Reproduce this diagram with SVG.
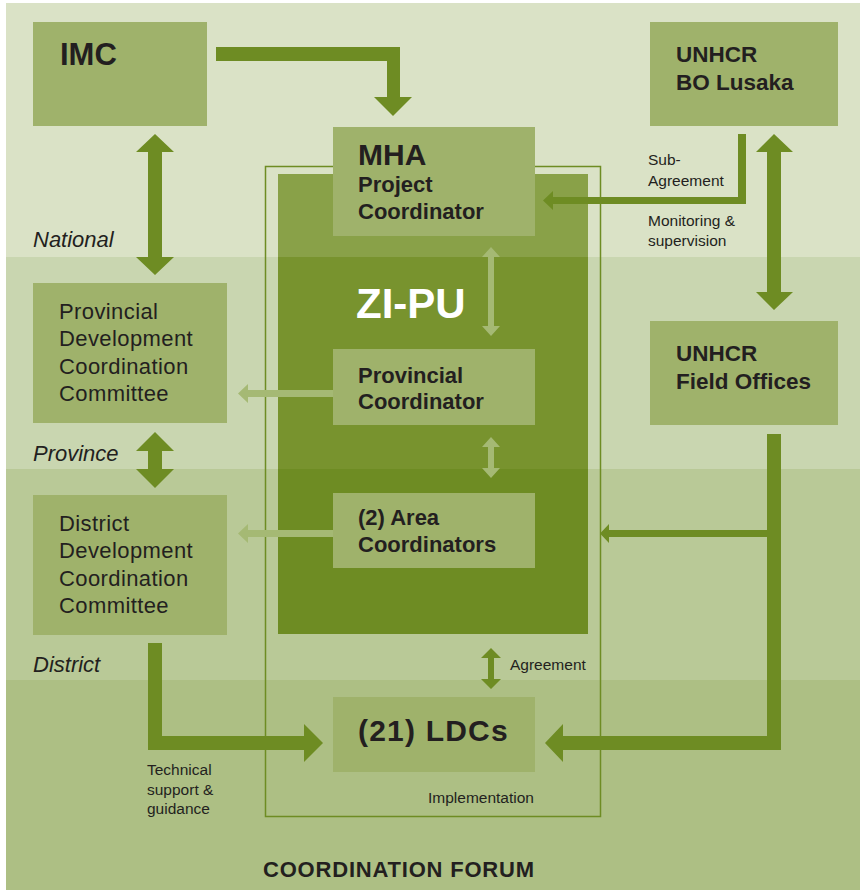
<svg xmlns="http://www.w3.org/2000/svg" width="860" height="890" viewBox="0 0 860 890">
<defs>
<style>
.box{fill:#9fb26b}
.dk{fill:#6e8c23}
.lt{fill:#a5b974}
.t{font-family:"Liberation Sans",Arial,Helvetica,sans-serif;fill:#231f20}
.b{font-weight:bold}
.r22{font-size:22px;letter-spacing:0.4px}
.b22{font-size:22px;font-weight:bold}
.sm{font-size:15.5px}
.lvl{font-size:22px;font-style:italic}
</style>
</defs>
<rect x="0" y="0" width="860" height="890" fill="#ffffff"/>
<g id="bands">
<rect x="6" y="3" width="854" height="254" fill="#dae2c6"/>
<rect x="6" y="257" width="854" height="212" fill="#c9d6b0"/>
<rect x="6" y="469" width="854" height="211" fill="#b9c997"/>
<rect x="6" y="680" width="854" height="210" fill="#adbf84"/>
</g>
<g id="forum">
<rect x="265.5" y="166.5" width="335" height="650" fill="none" stroke="#6e8c23" stroke-width="1.5"/>
<text class="t b" x="263" y="877" font-size="22" letter-spacing="0.8">COORDINATION FORUM</text>
</g>
<g id="zipu">
<rect x="278" y="174" width="310" height="83" fill="#89a148"/>
<rect x="278" y="257" width="310" height="212" fill="#78932e"/>
<rect x="278" y="469" width="310" height="165" fill="#6e8c23"/>
<text class="t b" x="356" y="318" font-size="42" style="fill:#ffffff">ZI-PU</text>
</g>
<g id="connectors">
<path class="dk" d="M216,47 H400 V97 H412 L393,116 L374,97 H387 V61 H216 Z"/>
<polygon class="dk" points="155,134 174,152 162,152 162,257 174,257 155,275 136,257 148,257 148,152 136,152"/>
<polygon class="dk" points="155,432 174,451 162,451 162,469 174,469 155,488 136,469 148,469 148,451 136,451"/>
<path class="dk" d="M148,643 H162 V736 H304 V724 L323,743 L304,762 V750 H148 Z"/>
<polygon class="dk" points="774,134 793,152 781,152 781,292 793,292 774,310 756,292 767,292 767,152 756,152"/>
<polygon class="dk" points="738,134 746,134 746,204 553,204 553,210 543,200.5 553,191 553,197 738,197"/>
<polygon class="dk" points="767,434 781,434 781,750 563,750 563,762 545,743 563,724 563,736 767,736"/>
<polygon class="dk" points="767,530 767,537 609,537 609,543 600,533.5 609,524 609,530"/>
<polygon class="dk" points="491,648 501,658 494,658 494,679 501,679 491,689 481,679 488,679 488,658 481,658"/>
<polygon class="lt" points="491,247 500,257 494,257 494,326 500,326 491,336 482,326 488,326 488,257 482,257"/>
<polygon class="lt" points="491,437 500,447 494,447 494,468 500,468 491,478 482,468 488,468 488,447 482,447"/>
<polygon class="lt" points="333,390 333,397 248,397 248,403 238,393.5 248,384 248,390"/>
<polygon class="lt" points="333,530 333,537 248,537 248,543 238,533.5 248,524 248,530"/>
</g>
<g id="labels">
<text class="t sm" x="648" y="165">Sub-</text>
<text class="t sm" x="648" y="186">Agreement</text>
<text class="t sm" x="648" y="226">Monitoring &amp;</text>
<text class="t sm" x="648" y="246">supervision</text>
<text class="t sm" x="510" y="670">Agreement</text>
<text class="t sm" x="428" y="803">Implementation</text>
<text class="t sm" x="147" y="775">Technical</text>
<text class="t sm" x="147" y="795">support &amp;</text>
<text class="t sm" x="147" y="814">guidance</text>
<text class="t lvl" x="33" y="247">National</text>
<text class="t lvl" x="33" y="461">Province</text>
<text class="t lvl" x="33" y="672">District</text>
</g>
<g id="imc">
<rect class="box" x="33" y="22" width="174" height="104"/>
<text class="t b" x="60" y="65" font-size="31">IMC</text>
</g>
<g id="mha">
<rect class="box" x="333" y="127" width="202" height="109"/>
<text class="t b" x="358" y="165" font-size="30">MHA</text>
<text class="t b22" x="358" y="192">Project</text>
<text class="t b22" x="358" y="219">Coordinator</text>
</g>
<g id="unhcr-bo">
<rect class="box" x="650" y="22" width="188" height="104"/>
<text class="t b" x="676" y="62" font-size="22.5">UNHCR</text>
<text class="t b" x="676" y="90" font-size="22.5">BO Lusaka</text>
</g>
<g id="pdcc">
<rect class="box" x="33" y="283" width="194" height="140"/>
<text class="t r22" x="59" y="319">Provincial</text>
<text class="t r22" x="59" y="346">Development</text>
<text class="t r22" x="59" y="374">Coordination</text>
<text class="t r22" x="59" y="401">Committee</text>
</g>
<g id="prov-coord">
<rect class="box" x="333" y="349" width="202" height="76"/>
<text class="t b22" x="358" y="383">Provincial</text>
<text class="t b22" x="358" y="409">Coordinator</text>
</g>
<g id="unhcr-fo">
<rect class="box" x="650" y="321" width="188" height="104"/>
<text class="t b" x="676" y="361" font-size="22.5">UNHCR</text>
<text class="t b" x="676" y="389" font-size="22.5">Field Offices</text>
</g>
<g id="ddcc">
<rect class="box" x="33" y="495" width="194" height="140"/>
<text class="t r22" x="59" y="531">District</text>
<text class="t r22" x="59" y="558">Development</text>
<text class="t r22" x="59" y="586">Coordination</text>
<text class="t r22" x="59" y="613">Committee</text>
</g>
<g id="area-coord">
<rect class="box" x="333" y="493" width="202" height="75"/>
<text class="t b22" x="358" y="525">(2) Area</text>
<text class="t b22" x="358" y="552">Coordinators</text>
</g>
<g id="ldcs">
<rect class="box" x="333" y="697" width="202" height="75"/>
<text class="t b" x="358" y="741" font-size="30" letter-spacing="1.2">(21) LDCs</text>
</g>
</svg>
